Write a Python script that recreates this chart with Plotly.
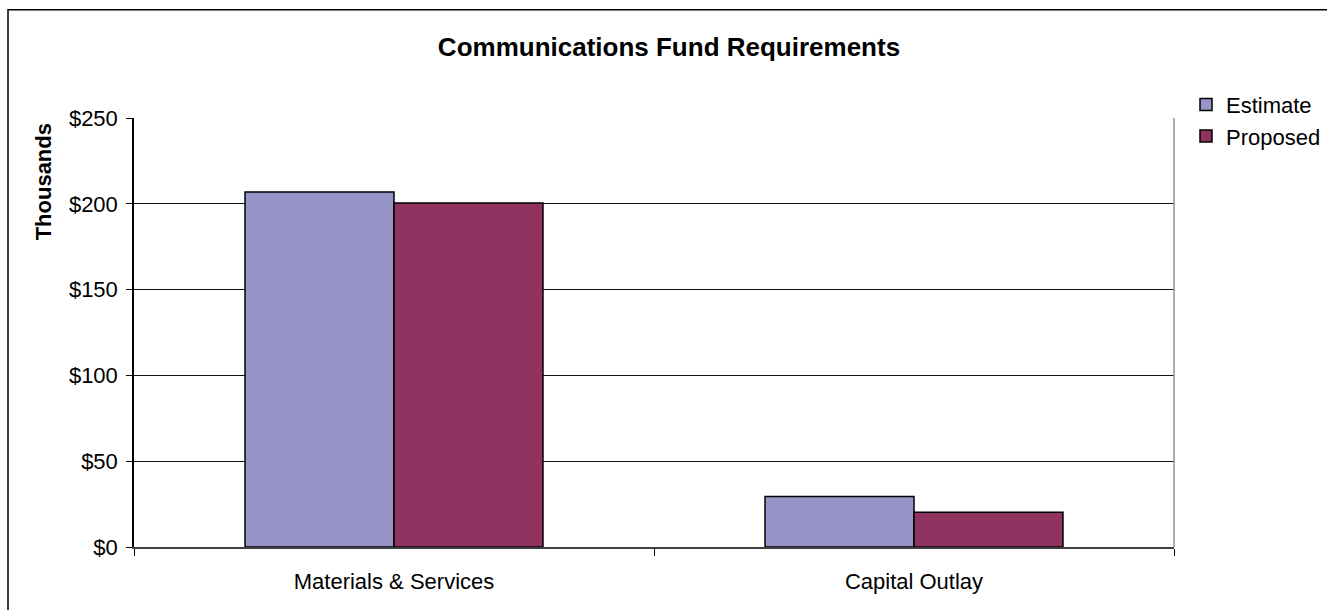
import plotly.graph_objects as go

# Fund requirement categories and amounts (in thousands of dollars)
categories = ["Materials & Services", "Capital Outlay"]
estimate = [206.9, 29.5]
proposed = [200.5, 20.2]
y_ticks = [0, 50, 100, 150, 200, 250]
y_tick_labels = ["$0", "$50", "$100", "$150", "$200", "$250"]

FONT = "Arial, Liberation Sans, sans-serif"

fig = go.Figure()
fig.add_trace(go.Bar(
    name="Estimate", x=categories, y=estimate,
    marker=dict(color="#9794C8", line=dict(color="#000000", width=1.5)),
))
fig.add_trace(go.Bar(
    name="Proposed", x=categories, y=proposed,
    marker=dict(color="#913360", line=dict(color="#000000", width=1.5)),
))

W, H = 1327, 610
L, R, T, B = 134, 153, 117.5, 62.5
pw, ph = W - L - R, H - T - B


def px_x(x):
    return (x - L) / pw


def px_y(y):
    return (H - B - y) / ph


fig.update_layout(
    width=W, height=H,
    margin=dict(l=L, r=R, t=T, b=B, autoexpand=False),
    paper_bgcolor="white", plot_bgcolor="white",
    font=dict(family=FONT, size=21, color="#000000"),
    barmode="group", bargap=0.427, bargroupgap=0,
    title=dict(
        text="<b>Communications Fund Requirements</b>",
        x=669 / W, xanchor="center", y=1 - 47 / H, yanchor="middle",
        font=dict(family=FONT, size=26, color="#000000"),
    ),
    legend=dict(
        x=px_x(1186), y=px_y(83), xanchor="left", yanchor="top",
        font=dict(family=FONT, size=22), bgcolor="rgba(0,0,0,0)",
        itemclick=False,
    ),
    showlegend=True,
    xaxis=dict(
        showline=True, linecolor="#404040", linewidth=2,
        ticks="outside", tickson="boundaries", ticklen=7, tickcolor="#000000",
        tickfont=dict(family=FONT, size=22), ticklabelstandoff=14,
        showgrid=False, zeroline=False,
    ),
    yaxis=dict(
        range=[0, 250], tickvals=y_ticks, ticktext=y_tick_labels,
        showline=True, linecolor="#000000", linewidth=1.5,
        ticks="outside", ticklen=6, tickcolor="#000000",
        tickfont=dict(family=FONT, size=22), ticklabelstandoff=4,
        showgrid=True, gridcolor="#111111", gridwidth=1.2,
        zeroline=False,
    ),
    annotations=[
        # value-axis title, set high along the axis
        dict(text="<b>Thousands</b>", xref="paper", yref="paper",
             x=px_x(43), y=px_y(182), xanchor="center", yanchor="middle",
             textangle=-90, showarrow=False,
             font=dict(family=FONT, size=22, color="#000000")),
    ],
    shapes=[
        # right edge of the plot area
        dict(type="line", xref="paper", yref="paper", x0=1, x1=1, y0=0, y1=1,
             line=dict(color="#909090", width=1.5)),
        # outer chart frame
        dict(type="rect", xref="paper", yref="paper",
             x0=px_x(8), x1=px_x(1345), y0=px_y(9), y1=px_y(625),
             line=dict(color="#000000", width=1.5)),
    ],
)

fig.write_html("out.html")
